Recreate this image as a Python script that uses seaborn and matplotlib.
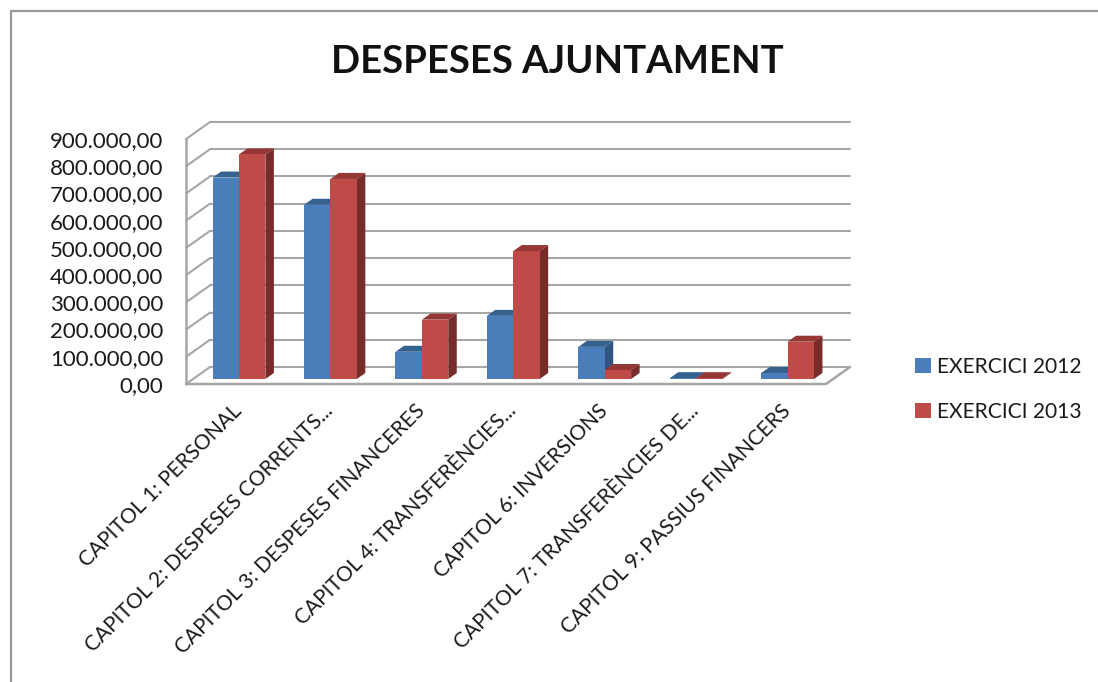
import pandas as pd
import seaborn as sns
import matplotlib
matplotlib.use("Agg")
import matplotlib.pyplot as plt
from matplotlib.lines import Line2D
from matplotlib.patches import Polygon


capitols = [
    "CAPITOL 1: PERSONAL",
    "CAPITOL 2: DESPESES CORRENTS...",
    "CAPITOL 3: DESPESES FINANCERES",
    "CAPITOL 4: TRANSFERÈNCIES...",
    "CAPITOL 6: INVERSIONS",
    "CAPITOL 7: TRANSFERÈNCIES DE...",
    "CAPITOL 9: PASSIUS FINANCERS",
]
exercici_2012 = [740000, 640000, 100000, 232000, 118000, 3000, 22000]
exercici_2013 = [825000, 735000, 218000, 470000, 33000, 3000, 137000]
y_ticks = [0, 100000, 200000, 300000, 400000, 500000, 600000, 700000, 800000, 900000]

W, H = 1098, 682
BLUE, BLUE_TOP, BLUE_SIDE = "#4A7EBB", "#35618F", "#2F5580"
RED, RED_TOP, RED_SIDE = "#BE4B48", "#953735", "#772C2A"
GRID = "#a6a6a6"


def fmt(v):
    return f"{v:,.2f}".replace(",", " ").replace(".", ",").replace(" ", ".")


df = pd.DataFrame({
    "capitol": capitols * 2,
    "valor": exercici_2012 + exercici_2013,
    "exercici": ["EXERCICI 2012"] * 7 + ["EXERCICI 2013"] * 7,
})

sns.set_theme(style="white")
plt.rcParams["font.family"] = ["Lato", "DejaVu Sans"]

fig = plt.figure(figsize=(W / 100, H / 100), dpi=100)

# axes = front plane of the fake 3d box
left, right, top, bottom = 186, 826, 139, 384
ax = fig.add_axes([left / W, 1 - bottom / H, (right - left) / W, (bottom - top) / H])

sns.barplot(
    data=df, x="capitol", y="valor", hue="exercici",
    palette=[BLUE, RED], width=0.577, saturation=1, linewidth=0, ax=ax,
)

ax.set_xlim(-0.5, 6.5)
ax.set_ylim(0, 900000)

px_x = 7 / (right - left)      # data units per pixel
px_y = 900000 / (bottom - top)

# back wall and floor
wall_dx, wall_dy = 24 * px_x, 17 * px_y
for v in y_ticks:
    ax.plot([-0.5, -0.5 + wall_dx], [v, v + wall_dy], color=GRID, lw=1.5,
            clip_on=False, zorder=0.5)
    ax.plot([-0.5 + wall_dx, 6.5 + wall_dx], [v + wall_dy, v + wall_dy], color=GRID, lw=1.5,
            clip_on=False, zorder=0.5)
ax.plot([-0.5, -0.5], [0, 900000], color=GRID, lw=1.8, clip_on=False, zorder=0.5)
ax.plot([-0.5, 6.5, 6.5 + wall_dx], [0, 0, wall_dy], color=GRID, lw=1.8,
        clip_on=False, zorder=0.5)

# move bars back from the front plane, add top and side faces
off_x, off_y = 7.3 * px_x, 5 * px_y
d_x, d_y = 8.5 * px_x, 6 * px_y
faces = [(BLUE_TOP, BLUE_SIDE), (RED_TOP, RED_SIDE)]
for n, cont in enumerate(ax.containers):
    for bar in cont:
        x0 = bar.get_x() + off_x
        x1 = x0 + bar.get_width()
        y1 = bar.get_height() + off_y
        bar.set_x(x0)
        bar.set_y(off_y)
        bar.set_zorder(2 + n * 2 + 0.5)
        ax.add_patch(Polygon([(x0, y1), (x1, y1), (x1 + d_x, y1 + d_y), (x0 + d_x, y1 + d_y)],
                             closed=True, fc=faces[n][0], ec="none", zorder=2 + n * 2, clip_on=False))
        ax.add_patch(Polygon([(x1, off_y), (x1 + d_x, off_y + d_y), (x1 + d_x, y1 + d_y), (x1, y1)],
                             closed=True, fc=faces[n][1], ec="none", zorder=2 + n * 2, clip_on=False))

sns.despine(ax=ax, left=True, bottom=True)
ax.set_xlabel("")
ax.set_ylabel("")
ax.set_yticks(y_ticks)
ax.set_yticklabels([fmt(v) for v in y_ticks], fontsize=16, color="#1a1a1a")
ax.tick_params(axis="y", length=0, pad=16.5)
ax.tick_params(axis="x", length=0, pad=12)
ax.set_xticks(range(7))
ax.set_xticklabels(capitols, rotation=45, ha="right", rotation_mode="anchor",
                   fontsize=15, color="#1a1a1a")

handles, labels = ax.get_legend_handles_labels()
ax.legend(
    handles, labels, loc="center left", bbox_to_anchor=(915 / W, 1 - 389.5 / H),
    bbox_transform=fig.transFigure, frameon=False, fontsize=15.1,
    handlelength=0.75, handleheight=0.75, handletextpad=0.3, labelspacing=1.2,
    borderpad=0, borderaxespad=0, labelcolor="#1a1a1a",
)

fig.text(557 / W, 1 - 62 / H, "DESPESES AJUNTAMENT", ha="center", va="center",
         fontsize=27.5, fontweight="bold", color="#111111")

# chart frame, only left and top are inside the picture
fig.add_artist(Line2D([10.5 / W, 10.5 / W, 1], [0, 1 - 10.5 / H, 1 - 10.5 / H],
                      transform=fig.transFigure, color="#999999", lw=1.6))

fig.savefig("out.png", dpi=100)
plt.close(fig)
